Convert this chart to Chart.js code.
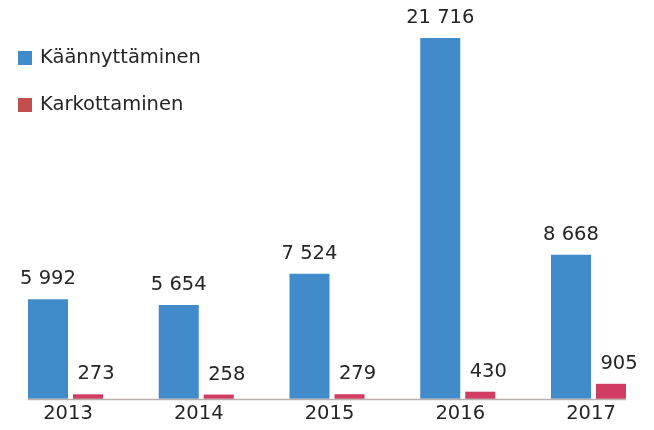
<!DOCTYPE html>
<html>
<head>
<meta charset="utf-8">
<script src="https://cdn.jsdelivr.net/npm/chart.js@4"></script>
<style>
  body { margin: 0; background: #fff; }
  #wrap { width: 654px; height: 430px; position: relative; }
</style>
</head>
<body>
<div id="wrap"><canvas id="grafico"></canvas></div>
<script>
const years = ['2013', '2014', '2015', '2016', '2017'];
const kaannyttaminen = [5992, 5654, 7524, 21716, 8668];
const karkottaminen = [273, 258, 279, 430, 905];
const seriesNames = ['Käännyttäminen', 'Karkottaminen'];

const FONT = '19.5px "DejaVu Sans", Verdana, sans-serif';
const textColor = '#252525';
const blue = '#428bca';
const red = '#d13c62';
const legendColors = [blue, '#c0504d'];

const fmt = function(v) {
  return String(v).replace(/\B(?=(\d{3})+(?!\d))/g, ' ');
};

// value labels above bars + the baseline under the bars
const barLabels = {
  id: 'barLabels',
  afterDatasetsDraw(chart) {
    const ctx = chart.ctx;
    ctx.save();
    let minX = Infinity, maxX = -Infinity;
    chart.data.datasets.forEach((ds, i) => {
      const meta = chart.getDatasetMeta(i);
      meta.data.forEach((bar, j) => {
        minX = Math.min(minX, bar.x - bar.width / 2);
        maxX = Math.max(maxX, bar.x + bar.width / 2);
        ctx.font = FONT;
        ctx.fillStyle = textColor;
        ctx.textAlign = 'center';
        ctx.textBaseline = 'alphabetic';
        ctx.fillText(fmt(ds.data[j]), bar.x + (i === 1 ? 8 : 0), bar.y - 15);
      });
    });
    const y = chart.scales.y.getPixelForValue(0);
    ctx.strokeStyle = '#b9b0ad';
    ctx.lineWidth = 1.5;
    ctx.beginPath();
    ctx.moveTo(minX, y + 0.75);
    ctx.lineTo(maxX, y + 0.75);
    ctx.stroke();
    ctx.restore();
  }
};

// legend in the top left corner
const sideLegend = {
  id: 'sideLegend',
  afterDraw(chart) {
    const ctx = chart.ctx;
    ctx.save();
    chart.data.datasets.forEach((ds, i) => {
      const cy = 58 + i * 47;
      ctx.fillStyle = legendColors[i];
      ctx.fillRect(18, cy - 7, 14, 14);
      ctx.font = FONT;
      ctx.fillStyle = textColor;
      ctx.textAlign = 'left';
      ctx.textBaseline = 'middle';
      ctx.fillText(ds.label, 40, cy);
    });
    ctx.restore();
  }
};

const chartData = {
  labels: years,
  datasets: [
    {
      label: seriesNames[0],
      data: kaannyttaminen,
      backgroundColor: blue,
      categoryPercentage: 0.612,
      barPercentage: 1.0,
      clip: false
    },
    {
      label: seriesNames[1],
      data: karkottaminen,
      backgroundColor: red,
      categoryPercentage: 0.612,
      barPercentage: 0.75,
      clip: false
    }
  ]
};

const options = {
  responsive: true,
  maintainAspectRatio: false,
  animation: false,
  layout: {
    padding: { left: 68, right: 63, top: 20, bottom: 0 }
  },
  plugins: {
    legend: { display: false },
    tooltip: { enabled: false }
  },
  scales: {
    x: {
      offset: false,
      grid: { display: false, drawTicks: false },
      border: { display: false },
      ticks: {
        color: textColor,
        padding: 7,
        maxRotation: 0,
        autoSkip: false,
        font: { family: '"DejaVu Sans", Verdana, sans-serif', size: 19.5, lineHeight: 0.88 }
      }
    },
    y: {
      display: false,
      min: 0,
      max: 22800
    }
  }
};

const myChart = new Chart(document.getElementById('grafico'), {
  type: 'bar',
  data: chartData,
  options: options,
  plugins: [barLabels, sideLegend]
});
</script>
</body>
</html>
